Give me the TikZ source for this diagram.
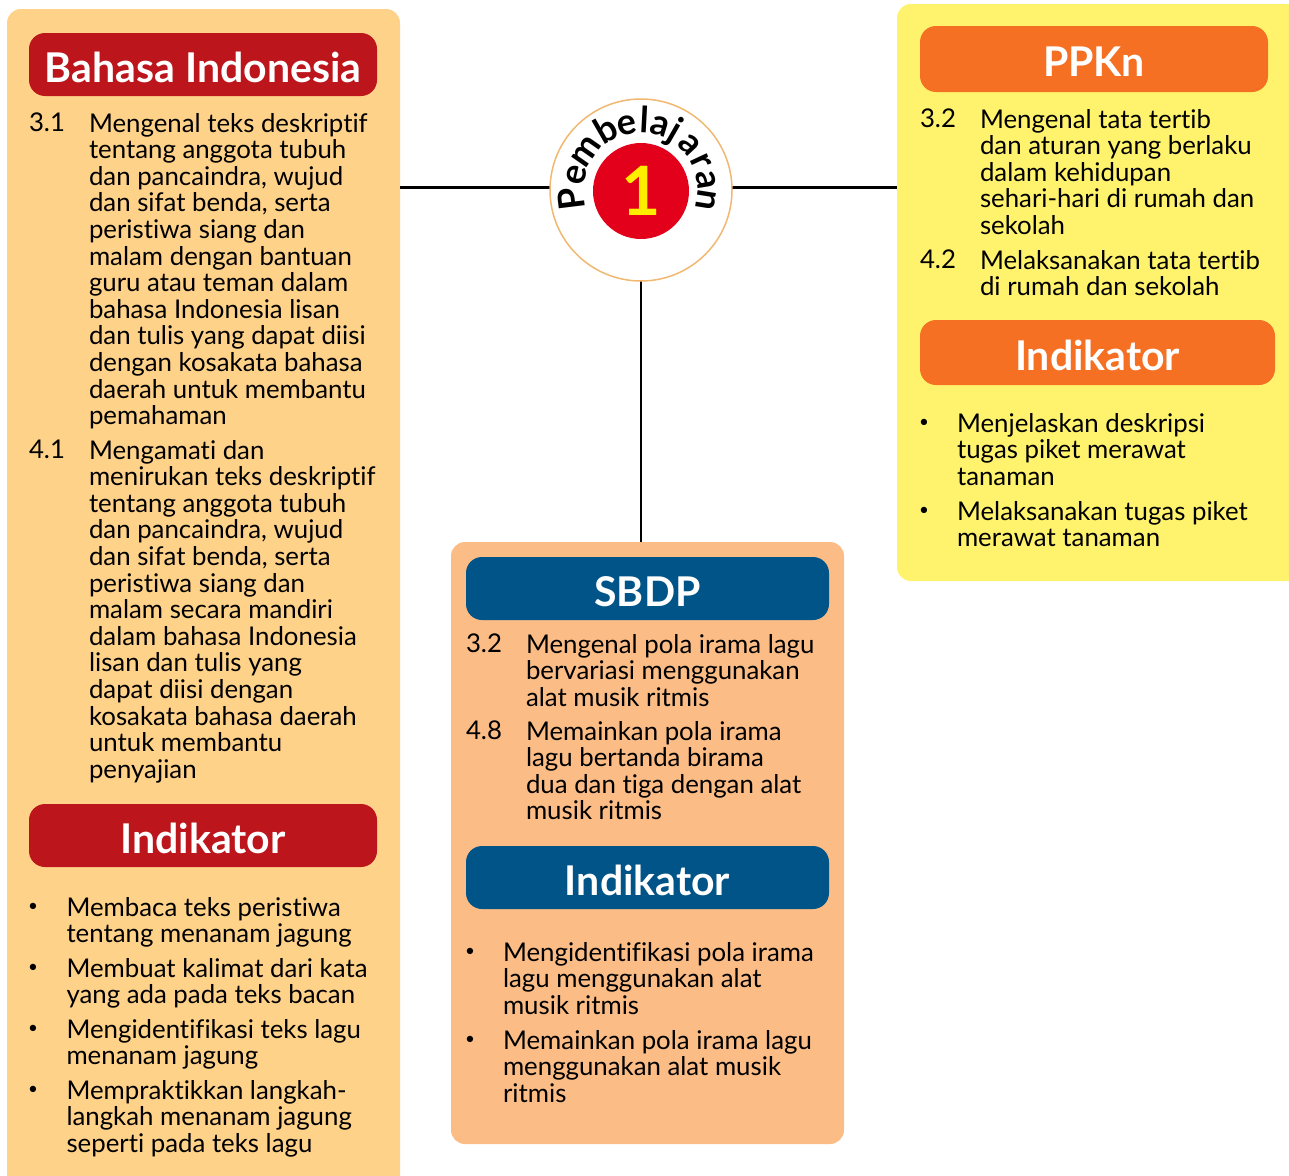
\documentclass[tikz,border=0pt]{standalone}
\usepackage{fontspec}
\setmainfont[Ligatures=CommonOff]{Lato}
\definecolor{panelbindo}{HTML}{FFD28A}
\definecolor{panelppkn}{HTML}{FFF36D}
\definecolor{panelsbdp}{HTML}{FBBC85}
\definecolor{headbindo}{HTML}{BC151C}
\definecolor{headppkn}{HTML}{F57023}
\definecolor{headsbdp}{HTML}{005487}
\definecolor{merah}{HTML}{E2001A}
\definecolor{kuning}{HTML}{FFED00}
\definecolor{tepi}{HTML}{F0B870}
\tikzset{
	panel/.style={rounded corners=14pt,inner sep=0pt,outer sep=0pt},
	head/.style={rounded corners=16pt,inner sep=0pt,outer sep=0pt,text=white,text height=35pt,text depth=0pt,font=\bfseries\fontsize{41}{41}\selectfont},
	isi/.style={anchor=north west,inner sep=0pt,outer sep=0pt,align=left,font=\fontsize{25.8}{26.6}\selectfont},
	titik/.style={anchor=center,inner sep=0pt,outer sep=0pt,font=\fontsize{17}{17}\selectfont},
	huruf/.style={anchor=base,inner sep=0pt,outer sep=0pt,font=\bfseries\fontsize{36}{36}\selectfont},
	link/.style={line width=2.4pt}
}
\begin{document}
\begin{tikzpicture}[x=1pt,y=-1pt]
	\useasboundingbox (0,0) rectangle (1289,1175);
	\clip (0,0) rectangle (1289,1175);

	% panels
	\node[panel,fill=panelbindo,minimum width=393pt,minimum height=1190pt] (bindo) at (203.5,604) {};
	\node[panel,fill=panelppkn,minimum width=420pt,minimum height=577pt] (ppkn) at (1107,292.5) {};
	\node[panel,fill=panelsbdp,minimum width=393pt,minimum height=602pt] (sbdp) at (647.5,843) {};

	% links
	\coordinate (hub) at (641,187.5);
	\draw[link] (bindo.east |- hub) -- (ppkn.west |- hub);
	\draw[link] (hub) -- (hub |- sbdp.north);

	% badge
	\node[circle,draw=tepi,fill=white,line width=1.5pt,minimum size=182pt,inner sep=0pt] (badge) at (641,190) {};
	\node[circle,fill=merah,minimum size=96pt,inner sep=0pt,text=kuning,font=\bfseries\fontsize{68}{68}\selectfont] (nomor) at (641,191) {\raisebox{-3pt}{1}};
	\foreach \h/\a [count=\i] in {P/187,e/167,m/145,b/120,e/102,l/87,a/73,j/60,a/43,r/25,a/9,n/-9}
		\node[huruf,rotate=\a-90] (huruf\i) at ([shift={(\a:57pt)}]badge.center) {\h};

	% Bahasa Indonesia
	\node[head,fill=headbindo,minimum width=348pt,minimum height=63pt] (hbindo) at (203,64.5) {Bahasa Indonesia};
	\node[isi] (a31) at (29,113) {3.1};
	\node[isi] (t31) at (89,113) {Mengenal teks deskriptif\\tentang anggota tubuh\\dan pancaindra, wujud\\dan sifat benda, serta\\peristiwa siang dan\\malam dengan bantuan\\guru atau teman dalam\\bahasa Indonesia lisan\\dan tulis yang dapat diisi\\dengan kosakata bahasa\\daerah untuk membantu\\pemahaman};
	\node[isi] (a41) at (29,440) {4.1};
	\node[isi] (t41) at (89,440) {Mengamati dan\\menirukan teks deskriptif\\tentang anggota tubuh\\dan pancaindra, wujud\\dan sifat benda, serta\\peristiwa siang dan\\malam secara mandiri\\dalam bahasa Indonesia\\lisan dan tulis yang\\dapat diisi dengan\\kosakata bahasa daerah\\untuk membantu\\penyajian};
	\node[head,fill=headbindo,minimum width=348pt,minimum height=63pt] (hbindo2) at (203,835.5) {Indikator};
	\node[titik] (p1) at (33,907) {•};
	\node[isi] (q1) at (66.5,897) {Membaca teks peristiwa\\tentang menanam jagung};
	\node[titik] (p2) at (33,968) {•};
	\node[isi] (q2) at (66.5,958) {Membuat kalimat dari kata\\yang ada pada teks bacan};
	\node[titik] (p3) at (33,1029) {•};
	\node[isi] (q3) at (66.5,1019) {Mengidentifikasi teks lagu\\menanam jagung};
	\node[titik] (p4) at (33,1090) {•};
	\node[isi] (q4) at (66.5,1080) {Mempraktikkan langkah-\\langkah menanam jagung\\seperti pada teks lagu};

	% PPKn
	\node[head,fill=headppkn,minimum width=348pt,minimum height=66pt] (hppkn) at (1094,59) {PPKn};
	\node[isi] (b32) at (920,109) {3.2};
	\node[isi] (u32) at (980,109) {Mengenal tata tertib\\dan aturan yang berlaku\\dalam kehidupan\\sehari-hari di rumah dan\\sekolah};
	\node[isi] (b42) at (920,250) {4.2};
	\node[isi] (u42) at (980,250) {Melaksanakan tata tertib\\di rumah dan sekolah};
	\node[head,fill=headppkn,minimum width=355pt,minimum height=65pt] (hppkn2) at (1097.5,352.5) {Indikator};
	\node[titik] (r1) at (924,423) {•};
	\node[isi] (s1) at (957,413) {Menjelaskan deskripsi\\tugas piket merawat\\tanaman};
	\node[titik] (r2) at (924,511) {•};
	\node[isi] (s2) at (957,501) {Melaksanakan tugas piket\\merawat tanaman};

	% SBDP
	\node[head,fill=headsbdp,minimum width=363pt,minimum height=63pt] (hsbdp) at (647.5,588.5) {SBDP};
	\node[isi] (c32) at (466,634) {3.2};
	\node[isi] (v32) at (526,634) {Mengenal pola irama lagu\\bervariasi menggunakan\\alat musik ritmis};
	\node[isi] (c48) at (466,721) {4.8};
	\node[isi] (v48) at (526,721) {Memainkan pola irama\\lagu bertanda birama\\dua dan tiga dengan alat\\musik ritmis};
	\node[head,fill=headsbdp,minimum width=363pt,minimum height=63pt] (hsbdp2) at (647.5,877.5) {Indikator};
	\node[titik] (w1) at (470,952) {•};
	\node[isi] (x1) at (503,942) {Mengidentifikasi pola irama\\lagu menggunakan alat\\musik ritmis};
	\node[titik] (w2) at (470,1040) {•};
	\node[isi] (x2) at (503,1030) {Memainkan pola irama lagu\\menggunakan alat musik\\ritmis};
\end{tikzpicture}
\end{document}
